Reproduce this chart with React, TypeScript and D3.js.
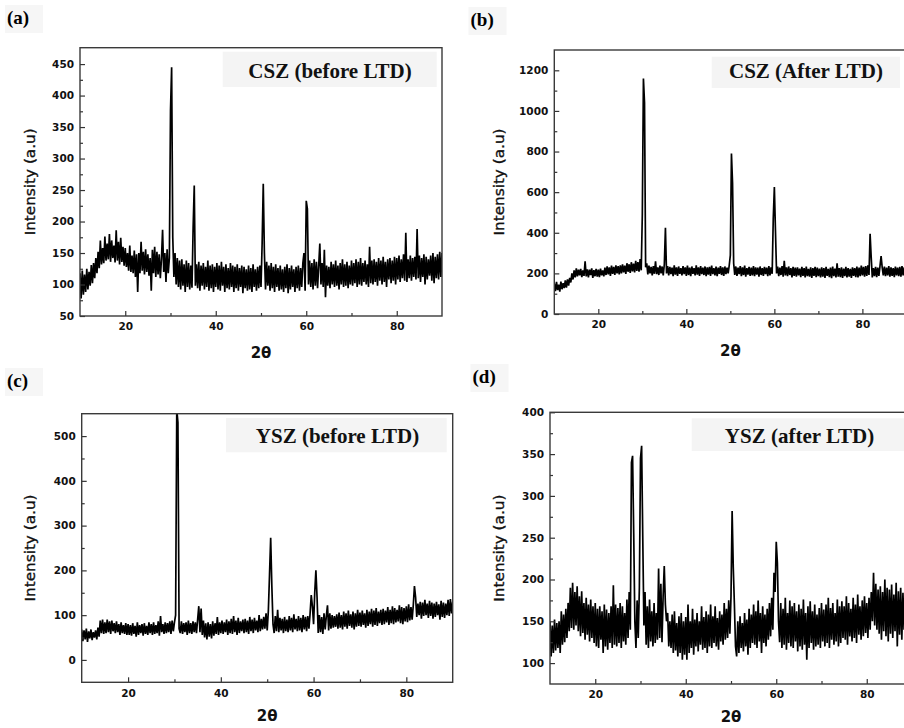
import { useEffect, useRef } from 'react'
import { select, scaleLinear, line, axisBottom, axisLeft } from 'd3'

const width = 904
const height = 728

// 2θ sampling of the read-off patterns
const thetaStart = 10
const thetaStep = 0.25

const xMajor = [20, 40, 60, 80]
const xMinor = [30, 50, 70]

// (a) CSZ before LTD, one row = 5 degrees
const cszBefore = [
  118, 78, 122, 84, 116, 88, 125, 92, 120, 98, 131, 102, 134, 110, 142, 118, 152, 126, 170, 132, // 10
  158, 134, 176, 138, 165, 140, 180, 136, 170, 142, 162, 135, 186, 138, 168, 132, 174, 136, 160, 130, // 15
  158, 128, 150, 122, 162, 120, 146, 118, 154, 112, 148, 88, 150, 118, 168, 122, 152, 116, 156, 120, // 20
  148, 114, 142, 90, 155, 118, 160, 112, 152, 116, 148, 110, 140, 187, 120, 150, 104, 156, 118, 142, // 25
  376, 445, 175, 112, 150, 100, 142, 96, 138, 92, 140, 98, 132, 88, 138, 96, 134, 92, 130, 95, // 30
  190, 257, 98, 132, 94, 136, 90, 130, 98, 134, 92, 128, 96, 138, 90, 130, 94, 132, 88, 128, // 35
  96, 134, 92, 130, 90, 136, 98, 128, 88, 132, 94, 126, 92, 134, 96, 130, 88, 128, 94, 132, // 40
  90, 126, 96, 130, 86, 128, 94, 124, 90, 130, 92, 126, 88, 132, 96, 124, 90, 128, 94, 130, // 45
  96, 165, 260, 150, 92, 136, 98, 130, 90, 134, 94, 128, 88, 132, 96, 126, 90, 130, 92, 124, // 50
  88, 128, 94, 132, 86, 126, 92, 130, 96, 124, 88, 128, 94, 130, 90, 126, 96, 134, 150, 90, // 55
  233, 220, 100, 138, 96, 134, 92, 140, 98, 136, 94, 130, 165, 100, 134, 96, 155, 80, 130, 98, // 60
  128, 94, 136, 100, 132, 96, 138, 98, 130, 92, 134, 100, 140, 96, 132, 98, 136, 94, 130, 100, // 65
  138, 98, 134, 102, 140, 96, 136, 100, 142, 98, 134, 104, 138, 100, 132, 96, 160, 102, 138, 100, // 70
  140, 104, 136, 98, 142, 106, 138, 100, 144, 104, 136, 96, 140, 108, 142, 102, 138, 106, 144, 100, // 75
  142, 108, 146, 104, 140, 110, 148, 106, 182, 104, 140, 110, 146, 106, 142, 112, 144, 108, 188, 110, // 80
  146, 104, 142, 112, 148, 100, 144, 108, 140, 114, 146, 106, 150, 102, 144, 110, 148, 108, 152, 112, // 85
  150,
]

// (b) CSZ after LTD
const cszAfter = [
  150, 112, 158, 118, 145, 110, 160, 122, 152, 128, 165, 130, 170, 140, 178, 155, 200, 170, 215, 180,
  225, 185, 218, 190, 222, 182, 215, 188, 260, 185, 220, 180, 218, 192, 225, 178, 216, 186, 222, 184,
  218, 182, 224, 190, 215, 185, 228, 192, 235, 195, 230, 188, 238, 198, 232, 192, 240, 200, 236, 195,
  240, 200, 245, 205, 238, 198, 250, 208, 245, 202, 255, 210, 248, 205, 262, 212, 255, 208, 270, 215,
  490, 1160, 1040, 230, 250, 195, 238, 200, 232, 190, 236, 198, 260, 196, 230, 192, 238, 200, 234, 190,
  245, 425, 200, 236, 190, 232, 196, 228, 186, 240, 194, 230, 188, 234, 198, 226, 190, 236, 196, 230,
  188, 238, 192, 228, 186, 234, 198, 226, 190, 240, 194, 230, 188, 236, 196, 228, 192, 234, 186, 230,
  194, 232, 188, 238, 196, 226, 190, 234, 186, 228, 198, 236, 192, 230, 188, 234, 196, 228, 200, 240,
  290, 790, 645, 250, 192, 234, 188, 228, 196, 236, 186, 230, 192, 238, 184, 226, 194, 232, 188, 228,
  190, 236, 186, 230, 194, 228, 184, 234, 192, 226, 188, 232, 196, 228, 186, 236, 190, 230, 198, 470,
  625, 410, 200, 234, 186, 228, 192, 236, 184, 262, 190, 230, 186, 234, 192, 226, 180, 232, 188, 228,
  184, 230, 190, 224, 182, 232, 188, 226, 180, 234, 186, 222, 184, 230, 178, 226, 188, 232, 182, 228,
  186, 224, 180, 230, 184, 226, 178, 232, 188, 222, 182, 228, 176, 234, 186, 224, 180, 250, 184, 226,
  182, 230, 178, 224, 186, 232, 180, 226, 184, 222, 178, 230, 188, 226, 182, 234, 180, 228, 186, 238,
  190, 232, 184, 236, 188, 240, 192, 395, 280, 180, 226, 186, 232, 182, 228, 188, 236, 285, 230, 190,
  234, 186, 228, 190, 236, 184, 230, 188, 226, 182, 234, 190, 228, 186, 232, 184, 236, 190, 230, 188,
  232,
]

// (c) YSZ before LTD
const yszBefore = [
  68, 42, 66, 46, 70, 40, 64, 48, 68, 44, 62, 50, 66, 46, 72, 52, 88, 60, 90, 58,
  84, 60, 90, 62, 86, 58, 88, 64, 82, 60, 86, 62, 80, 56, 84, 60, 78, 58, 82, 56,
  80, 56, 78, 54, 82, 58, 76, 52, 84, 56, 78, 60, 80, 54, 82, 58, 76, 56, 84, 60,
  80, 56, 84, 58, 78, 60, 86, 54, 98, 62, 80, 58, 84, 60, 82, 62, 86, 58, 88, 64,
  84, 100, 560, 530, 70, 60, 86, 58, 82, 62, 84, 56, 88, 60, 82, 58, 86, 62, 84, 60,
  90, 120, 62, 115, 56, 88, 50, 82, 46, 84, 52, 80, 48, 86, 54, 82, 58, 96, 56, 84,
  60, 88, 58, 84, 62, 90, 56, 86, 60, 92, 58, 98, 62, 88, 56, 94, 60, 86, 64, 90,
  60, 92, 62, 88, 58, 96, 64, 90, 60, 94, 66, 88, 62, 100, 64, 92, 68, 96, 70, 104,
  66, 110, 190, 273, 165, 80, 60, 98, 64, 112, 62, 94, 66, 92, 60, 96, 64, 90, 62, 98,
  66, 94, 62, 102, 68, 92, 64, 98, 66, 94, 62, 100, 68, 96, 64, 98, 70, 104, 145, 120,
  80, 150, 200, 140, 60, 100, 62, 96, 58, 104, 68, 98, 122, 66, 104, 70, 100, 72, 98, 74,
  102, 70, 106, 72, 100, 68, 108, 74, 104, 70, 110, 76, 102, 72, 108, 68, 104, 74, 112, 76,
  106, 74, 110, 78, 104, 72, 112, 76, 108, 80, 114, 74, 110, 78, 116, 76, 108, 82, 112, 78,
  114, 80, 110, 84, 118, 78, 112, 82, 120, 80, 116, 84, 112, 86, 122, 82, 118, 80, 116, 86,
  120, 84, 124, 88, 118, 90, 122, 165, 140, 96, 126, 100, 130, 92, 128, 98, 134, 100, 126, 94,
  132, 98, 128, 92, 126, 96, 130, 100, 124, 90, 132, 96, 128, 94, 126, 100, 134, 98, 136, 104,
  130,
]

// (d) YSZ after LTD
const yszAfter = [
  150, 108, 145, 112, 152, 115, 148, 118, 150, 112, 162, 122, 158, 125, 165, 130, 172, 138, 190, 142,
  196, 140, 185, 145, 192, 138, 180, 132, 186, 136, 172, 128, 178, 134, 170, 126, 176, 130, 168, 124,
  172, 120, 165, 118, 168, 128, 162, 112, 170, 120, 164, 116, 160, 124, 168, 118, 193, 122, 170, 120,
  166, 124, 172, 118, 168, 126, 160, 122, 176, 130, 185, 140, 340, 348, 255, 150, 118, 175, 130, 190,
  345, 360, 250, 145, 185, 122, 168, 118, 176, 126, 162, 120, 172, 124, 160, 128, 213, 130, 195, 125,
  180, 216, 170, 150, 160, 120, 150, 118, 158, 112, 162, 115, 148, 108, 156, 112, 160, 104, 150, 110,
  155, 104, 170, 112, 150, 118, 165, 110, 152, 120, 160, 114, 150, 122, 168, 116, 155, 118, 162, 112,
  158, 120, 170, 118, 156, 124, 168, 120, 154, 116, 162, 126, 158, 122, 172, 128, 165, 130, 175, 135,
  180, 282, 215, 170, 120, 108, 150, 112, 156, 118, 148, 114, 160, 120, 152, 110, 165, 118, 158, 124,
  170, 122, 162, 118, 175, 126, 160, 112, 168, 124, 158, 120, 165, 128, 172, 132, 178, 140, 208, 185,
  245, 220, 150, 125, 172, 118, 165, 122, 178, 116, 160, 124, 175, 120, 168, 118, 172, 126, 162, 114,
  170, 120, 165, 116, 176, 122, 160, 104, 168, 118, 174, 124, 162, 116, 170, 120, 158, 122, 166, 118,
  172, 126, 164, 120, 170, 124, 178, 118, 166, 128, 172, 122, 160, 126, 176, 120, 168, 124, 174, 130,
  168, 128, 180, 122, 172, 132, 165, 126, 178, 130, 170, 124, 182, 134, 168, 128, 175, 132, 180, 136,
  172, 130, 178, 140, 185, 150, 208, 145, 195, 140, 188, 135, 192, 128, 185, 138, 200, 132, 190, 126,
  188, 135, 194, 130, 182, 138, 196, 120, 186, 134, 190, 128, 184, 140, 192, 132, 186, 136, 195, 138,
  190,
]

const yMajorA = [50, 100, 150, 200, 250, 300, 350, 400, 450]
const yMinorA = [75, 125, 175, 225, 275, 325, 375, 425]
const yMajorB = [0, 200, 400, 600, 800, 1000, 1200]
const yMinorB = [100, 300, 500, 700, 900, 1100]
const yMajorC = [0, 100, 200, 300, 400, 500]
const yMinorC = [50, 150, 250, 350, 450]
const yMajorD = [100, 150, 200, 250, 300, 350, 400]
const yMinorD = [125, 175, 225, 275, 325, 375]

const panels = [
  {
    id: 'a', tag: '(a)', title: 'CSZ (before LTD)', values: cszBefore,
    frame: { left: 80, top: 47.7, right: 442, bottom: 316 }, yDomain: [50, 476],
    yMajor: yMajorA, yMinor: yMinorA,
    tag_xy: [7, 24], titleBox: [222.7, 51.7, 436.7, 87], title_xy: [330, 77.5], yLabelX: 30, xLabelGap: 42,
  },
  {
    id: 'b', tag: '(b)', title: 'CSZ (After LTD)', values: cszAfter,
    frame: { left: 554.3, top: 50, right: 906.4, bottom: 314 }, yDomain: [0, 1300],
    yMajor: yMajorB, yMinor: yMinorB,
    tag_xy: [470.5, 26], titleBox: [711.7, 56.7, 900, 88], title_xy: [806, 78], yLabelX: 499, xLabelGap: 42,
  },
  {
    id: 'c', tag: '(c)', title: 'YSZ (before LTD)', values: yszBefore,
    frame: { left: 81.7, top: 413.7, right: 452.7, bottom: 682.3 }, yDomain: [-50, 550],
    yMajor: yMajorC, yMinor: yMinorC,
    tag_xy: [7, 387], titleBox: [226, 418, 446.7, 452.3], title_xy: [337.5, 442.5], yLabelX: 30, xLabelGap: 39,
  },
  {
    id: 'd', tag: '(d)', title: 'YSZ (after LTD)', values: yszAfter,
    frame: { left: 550, top: 412.3, right: 912, bottom: 684 }, yDomain: [75, 400],
    yMajor: yMajorD, yMinor: yMinorD,
    tag_xy: [472.5, 383], titleBox: [691.7, 418.3, 910, 451], title_xy: [799.5, 442.5], yLabelX: 499, xLabelGap: 38,
  },
]

const tickFont = 'DejaVu Sans, Verdana, sans-serif'
const serifFont = 'Liberation Serif, Times New Roman, serif'

const App = () => {
  const svgRef = useRef<SVGSVGElement>(null)

  useEffect(() => {
    const svg = select(svgRef.current)
    svg.selectAll('*').remove()

    panels.forEach(p => {
      const { left, top, right, bottom } = p.frame
      const x = scaleLinear().domain([10, 90]).range([left, right])
      const y = scaleLinear().domain(p.yDomain).range([bottom, top])
      const g = svg.append('g').attr('class', `panel-${p.id}`)

      // tag (a), (b)...
      g.append('rect')
        .attr('x', p.tag_xy[0] - 2).attr('y', p.tag_xy[1] - 19)
        .attr('width', 38).attr('height', 28)
        .attr('fill', '#f6f6f6')
      g.append('text')
        .attr('x', p.tag_xy[0]).attr('y', p.tag_xy[1])
        .attr('font-family', serifFont).attr('font-weight', 'bold').attr('font-size', 19)
        .text(p.tag)

      // clip for the pattern
      svg.append('clipPath').attr('id', `clip-${p.id}`)
        .append('rect')
        .attr('x', left).attr('y', top)
        .attr('width', right - left).attr('height', bottom - top)

      // title box
      const [bx0, by0, bx1, by1] = p.titleBox
      g.append('rect')
        .attr('x', bx0).attr('y', by0).attr('width', bx1 - bx0).attr('height', by1 - by0)
        .attr('fill', '#f4f4f4')

      const pattern = line<number>()
        .x((d, i) => x(thetaStart + i * thetaStep))
        .y(d => y(d))

      g.append('path')
        .datum(p.values)
        .attr('clip-path', `url(#clip-${p.id})`)
        .attr('d', pattern)
        .attr('fill', 'none')
        .attr('stroke', '#000')
        .attr('stroke-width', 1.7)
        .attr('stroke-linejoin', 'miter')

      g.append('text')
        .attr('x', p.title_xy[0]).attr('y', p.title_xy[1])
        .attr('text-anchor', 'middle')
        .attr('font-family', serifFont).attr('font-weight', 'bold').attr('font-size', 21)
        .attr('fill', '#111')
        .text(p.title)

      // axes, ticks pointing inward
      const styleAxis = (sel: any) => {
        sel.select('.domain').remove()
        sel.selectAll('line').attr('stroke', '#333').attr('stroke-width', 1.2)
        sel.selectAll('text')
          .attr('font-family', tickFont).attr('font-weight', 'bold')
          .attr('font-size', 10.5).attr('fill', '#111')
      }

      g.append('g')
        .attr('transform', `translate(0,${bottom})`)
        .call(axisBottom(x).tickValues(xMajor).tickSize(-5).tickPadding(7).tickFormat(d => `${d}`))
        .call(styleAxis)
      g.append('g')
        .attr('transform', `translate(0,${bottom})`)
        .call(axisBottom(x).tickValues(xMinor).tickSize(-3).tickFormat(() => ''))
        .call(styleAxis)
      g.append('g')
        .attr('transform', `translate(${left},0)`)
        .call(axisLeft(y).tickValues(p.yMajor).tickSize(-5).tickPadding(6).tickFormat(d => `${d}`))
        .call(styleAxis)
      g.append('g')
        .attr('transform', `translate(${left},0)`)
        .call(axisLeft(y).tickValues(p.yMinor).tickSize(-3).tickFormat(() => ''))
        .call(styleAxis)

      // frame
      g.append('rect')
        .attr('x', left).attr('y', top)
        .attr('width', right - left).attr('height', bottom - top)
        .attr('fill', 'none')
        .attr('stroke', '#3a3a3a')
        .attr('stroke-width', 1.4)

      // axis titles
      const cy = (top + bottom) / 2
      g.append('text')
        .attr('transform', `translate(${p.yLabelX},${cy}) rotate(-90)`)
        .attr('text-anchor', 'middle')
        .attr('dy', '0.35em')
        .attr('font-family', tickFont).attr('font-size', 13.5)
        .attr('textLength', 107).attr('lengthAdjust', 'spacingAndGlyphs')
        .attr('fill', '#111')
        .attr('stroke', '#111').attr('stroke-width', 0.35)
        .text('Intensity (a.u)')

      g.append('text')
        .attr('x', (left + right) / 2).attr('y', bottom + p.xLabelGap)
        .attr('text-anchor', 'middle')
        .attr('font-family', tickFont).attr('font-weight', 'bold').attr('font-size', 15)
        .attr('fill', '#111')
        .text('2θ')
    })
  }, [])

  return (
    <svg
      ref={svgRef}
      width={width}
      height={height}
      style={{ position: 'absolute', left: 0, top: 0, background: '#fff' }}
    />
  )
}

export default App
